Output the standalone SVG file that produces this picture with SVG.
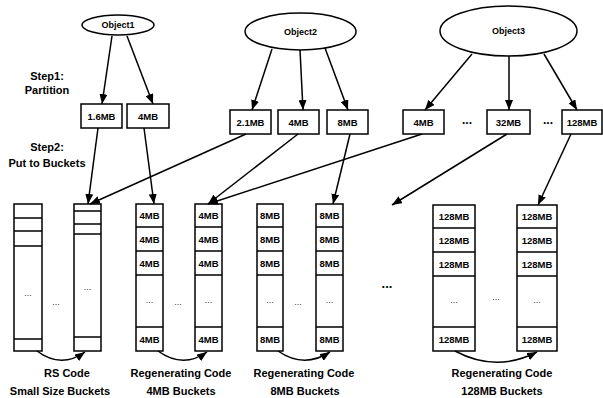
<svg xmlns="http://www.w3.org/2000/svg" width="603" height="398" viewBox="0 0 603 398">
<style>
text{font-family:"Liberation Sans",Arial,sans-serif;fill:#000;text-anchor:middle}
.lbl{font-size:11px;font-weight:bold}
.obj{font-size:9px;font-weight:bold}
.box{font-size:9.5px;font-weight:bold}
.dots{font-size:9px;fill:#333}
.bdots{font-size:12px;font-weight:bold}
.s{fill:#fff;stroke:#000;stroke-width:1.5}
.ln{stroke:#000;stroke-width:1.5;fill:none}
.c{stroke:#000;stroke-width:1.5;fill:none;marker-end:url(#ah)}
</style>
<defs>
<marker id="ah" viewBox="0 0 10 8" refX="10" refY="4" markerWidth="10" markerHeight="8" markerUnits="userSpaceOnUse" orient="auto">
<path d="M0,0 L10,4 L0,8 z" fill="#000"/>
</marker>
</defs>
<rect width="603" height="398" fill="#fff"/>

<g id="labels-steps">
<text class="lbl" x="47" y="80">Step1:</text>
<text class="lbl" x="47" y="94">Partition</text>
<text class="lbl" x="47" y="151">Step2:</text>
<text class="lbl" x="47" y="167">Put to Buckets</text>
</g>

<g id="object1"><ellipse class="s" cx="118" cy="25" rx="36" ry="10"/><text class="obj" x="118" y="28">Object1</text></g>
<g id="object2"><ellipse class="s" cx="300.5" cy="31.5" rx="55.5" ry="18.5"/><text class="obj" x="300.5" y="34.5">Object2</text></g>
<g id="object3"><ellipse class="s" cx="508.5" cy="31" rx="68.5" ry="25"/><text class="obj" x="508.5" y="34">Object3</text></g>

<g id="p-1-6MB"><rect class="s" x="81" y="104" width="41" height="24"/><text class="box" x="101.5" y="119.5">1.6MB</text></g>
<g id="p-o1-4MB"><rect class="s" x="127" y="104" width="42" height="24"/><text class="box" x="148" y="119.5">4MB</text></g>
<g id="p-2-1MB"><rect class="s" x="230" y="110" width="41" height="24"/><text class="box" x="250.5" y="125.5">2.1MB</text></g>
<g id="p-o2-4MB"><rect class="s" x="278" y="110" width="41" height="24"/><text class="box" x="298.5" y="125.5">4MB</text></g>
<g id="p-o2-8MB"><rect class="s" x="327" y="110" width="41" height="24"/><text class="box" x="347.5" y="125.5">8MB</text></g>
<g id="p-o3-4MB"><rect class="s" x="403" y="110" width="41" height="24"/><text class="box" x="423.5" y="125.5">4MB</text></g>
<g id="p-o3-32MB"><rect class="s" x="487" y="110" width="43" height="24"/><text class="box" x="508.5" y="125.5">32MB</text></g>
<g id="p-o3-128MB"><rect class="s" x="562" y="110" width="40" height="24"/><text class="box" x="582" y="125.5">128MB</text></g>
<g id="p-dots"><text class="bdots" x="467" y="124">...</text><text class="bdots" x="548" y="124">...</text></g>

<g id="rs-left">
<rect class="s" x="14" y="204" width="28" height="147"/>
<path class="ln" d="M14,218H42M14,231H42M14,246H42M14,339H42"/>
<text class="dots" x="28" y="296">...</text>
</g>
<g id="rs-right">
<rect class="s" x="74" y="204" width="27" height="147"/>
<path class="ln" d="M74,211H101M74,224H101M74,234H101M74,337H101"/>
<text class="dots" x="87.5" y="290">...</text>
</g>
<text class="dots" x="56" y="305">...</text>

<g id="mb4-left">
<rect class="s" x="136" y="204" width="27" height="147"/>
<path class="ln" d="M136,227H163M136,251H163M136,275H163M136,327H163"/>
<text class="box" x="149.5" y="219">4MB</text><text class="box" x="149.5" y="243">4MB</text><text class="box" x="149.5" y="267">4MB</text>
<text class="dots" x="149.5" y="303">...</text><text class="box" x="149.5" y="342.5">4MB</text>
</g>
<g id="mb4-right">
<rect class="s" x="195" y="204" width="27" height="147"/>
<path class="ln" d="M195,227H222M195,251H222M195,275H222M195,327H222"/>
<text class="box" x="208.5" y="219">4MB</text><text class="box" x="208.5" y="243">4MB</text><text class="box" x="208.5" y="267">4MB</text>
<text class="dots" x="208.5" y="303">...</text><text class="box" x="208.5" y="342.5">4MB</text>
</g>
<text class="dots" x="178" y="305">...</text>

<g id="mb8-left">
<rect class="s" x="257" y="204" width="26" height="147"/>
<path class="ln" d="M257,227H283M257,251H283M257,275H283M257,327H283"/>
<text class="box" x="270" y="219">8MB</text><text class="box" x="270" y="243">8MB</text><text class="box" x="270" y="267">8MB</text>
<text class="dots" x="270" y="303">...</text><text class="box" x="270" y="342.5">8MB</text>
</g>
<g id="mb8-right">
<rect class="s" x="316" y="204" width="27" height="147"/>
<path class="ln" d="M316,227H343M316,251H343M316,275H343M316,327H343"/>
<text class="box" x="329.5" y="219">8MB</text><text class="box" x="329.5" y="243">8MB</text><text class="box" x="329.5" y="267">8MB</text>
<text class="dots" x="329.5" y="303">...</text><text class="box" x="329.5" y="342.5">8MB</text>
</g>
<text class="dots" x="298" y="305">...</text>
<text class="bdots" x="387" y="288" style="font-size:13px">...</text>

<g id="mb128-left">
<rect class="s" x="433" y="205" width="42" height="146"/>
<path class="ln" d="M433,228H475M433,252H475M433,276H475M433,327H475"/>
<text class="box" x="454" y="220">128MB</text><text class="box" x="454" y="244">128MB</text><text class="box" x="454" y="268">128MB</text>
<text class="dots" x="454" y="303">...</text><text class="box" x="454" y="342.5">128MB</text>
</g>
<g id="mb128-right">
<rect class="s" x="517" y="205" width="40" height="146"/>
<path class="ln" d="M517,228H557M517,252H557M517,276H557M517,327H557"/>
<text class="box" x="537" y="220">128MB</text><text class="box" x="537" y="244">128MB</text><text class="box" x="537" y="268">128MB</text>
<text class="dots" x="537" y="303">...</text><text class="box" x="537" y="342.5">128MB</text>
</g>
<text class="dots" x="496" y="300">...</text>

<g id="connectors">
<path class="c" d="M112,36L102,104"/>
<path class="c" d="M127,36L153,104"/>
<path class="c" d="M272,49L252,110"/>
<path class="c" d="M300,50L303,110"/>
<path class="c" d="M325,48L348,110"/>
<path class="c" d="M472,54L425,110"/>
<path class="c" d="M509,56L509,110"/>
<path class="c" d="M544,54L577,110"/>
<path class="c" d="M98,128L88,204"/>
<path class="c" d="M144,128L154,204"/>
<path class="c" d="M246,134L90,204"/>
<path class="c" d="M298,134L208,204"/>
<path class="c" d="M350,134L333,204"/>
<path class="c" d="M422,134L208,204"/>
<path class="c" d="M507,134L392,205"/>
<path class="c" d="M571,134L538,205"/>
<path class="c" d="M37,351Q61,369 85,352"/>
<path class="c" d="M158,351Q183,369 207,352"/>
<path class="c" d="M278,351Q304,369 330,352"/>
<path class="c" d="M455,351Q496,373 537,352"/>
</g>

<g id="bottom-labels">
<text class="lbl" x="67" y="377">RS Code</text>
<text class="lbl" x="60" y="395">Small Size Buckets</text>
<text class="lbl" x="181" y="377">Regenerating Code</text>
<text class="lbl" x="181" y="395">4MB Buckets</text>
<text class="lbl" x="304" y="377">Regenerating Code</text>
<text class="lbl" x="305" y="395">8MB Buckets</text>
<text class="lbl" x="502" y="377">Regenerating Code</text>
<text class="lbl" x="502" y="395">128MB Buckets</text>
</g>
</svg>
